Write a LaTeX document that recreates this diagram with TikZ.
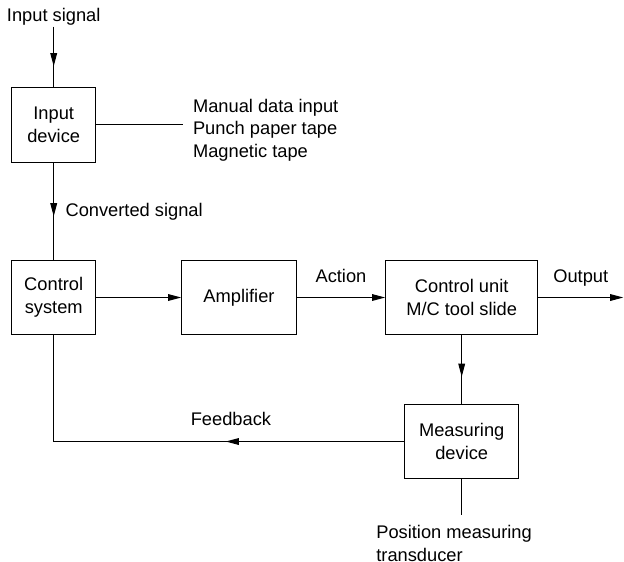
\documentclass[tikz,border=0pt]{standalone}
\usepackage{fontspec}
\setmainfont{Liberation Sans}
\usetikzlibrary{arrows.meta,decorations.markings}

\begin{document}
\begin{tikzpicture}[
    >={Triangle[length=7.5pt,width=3.8pt]},
    font=\fontsize{10.4}{12.8}\selectfont,
    block/.style={draw,line width=0.6pt,align=center,inner sep=0pt},
    link/.style={line width=0.6pt},
    flow/.style={link,->},
    midflow/.style={link,postaction={decorate},
      decoration={markings,mark=at position #1 with {\arrow{>}}}}
  ]
  \path[use as bounding box] (0,0) rectangle (12.48,-11.22);

  % blocks
  \node[block,minimum width=1.68cm,minimum height=1.5cm] (indev) at (1.074,-2.496) {Input\\device};
  \node[block,minimum width=1.68cm,minimum height=1.47cm] (ctrl) at (1.074,-5.95) {Control\\system};
  \node[block,minimum width=2.29cm,minimum height=1.47cm] (amp) at (4.78,-5.95) {Amplifier};
  \node[block,minimum width=3.04cm,minimum height=1.47cm] (cunit) at (9.234,-5.95) {Control unit\\M/C tool slide};
  \node[block,minimum width=2.29cm,minimum height=1.49cm] (meas) at (9.234,-8.83) {Measuring\\device};

  % free texts
  \node[anchor=south,inner sep=0.5pt] (insig) at (1.074,-0.53) {Input signal};
  \node[anchor=north west,inner sep=0pt,align=left] (media) at (3.854,-1.97)
    {Manual data input\\Punch paper tape\\Magnetic tape};
  \node[anchor=north west,inner sep=0pt,align=left] (trans) at (7.52,-10.503)
    {Position measuring\\transducer};
  \coordinate (out) at (12.466,-5.95);
  \coordinate (probe) at (9.234,-10.3);

  % connectors
  \draw[midflow=0.66] (insig.south) -- (indev.north);
  \draw[link] (indev.east) -- ([xshift=-0.2cm]indev.east -| media.west);
  \draw[midflow=0.55] (indev.south) -- (ctrl.north)
    node[midway,right=0.11cm] {Converted signal};
  \draw[flow] (ctrl.east) -- (amp.west);
  \draw[flow] (amp.east) -- (cunit.west) node[midway,above=5pt] {Action};
  \draw[flow] (cunit.east) -- (out) node[midway,above=2.8pt] {Output};
  \draw[midflow=0.61] (cunit.south) -- (meas.north);
  \draw[midflow=0.39] (meas.west) -| (ctrl.south)
    node[pos=0.247,above=5.4pt] {Feedback};
  \draw[link] (meas.south) -- (probe);
\end{tikzpicture}
\end{document}
